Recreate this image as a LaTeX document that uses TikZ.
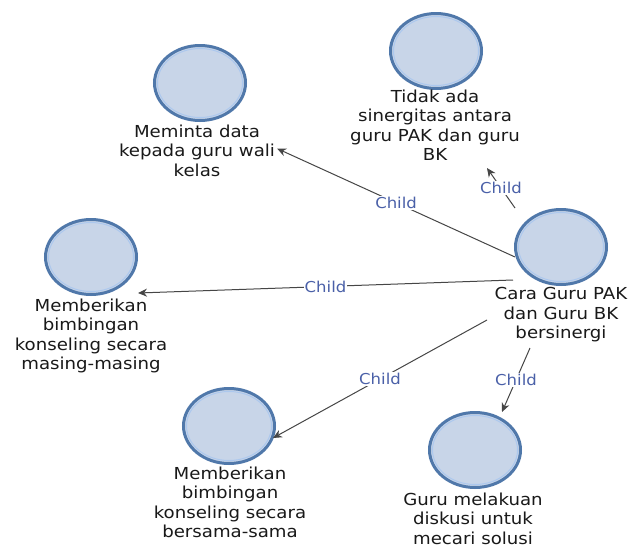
\documentclass[tikz,border=0pt]{standalone}
\usepackage{fontspec}
\setmainfont{DejaVu Sans}[FakeStretch=1.1]
\usetikzlibrary{shapes.geometric,arrows.meta}
\definecolor{ring}{RGB}{80,120,170}
\definecolor{ringin}{RGB}{172,200,238}
\definecolor{bubble}{RGB}{200,213,232}
\definecolor{lbl}{RGB}{74,96,168}
\definecolor{edge}{RGB}{70,70,70}
\definecolor{ink}{RGB}{25,25,25}
\begin{document}
\begin{tikzpicture}[x=1pt,y=-1pt,
  bub/.style={ellipse, draw=ring, line width=3pt, fill=bubble, minimum width=91pt, minimum height=75pt, inner sep=0pt},
  inring/.style={draw=ringin, line width=1pt},
  txt/.style={anchor=north, align=center, inner sep=0pt, text=ink, font=\fontsize{16.5}{19.5}\selectfont},
  conn/.style={draw=edge, line width=1pt, -{Stealth[length=9pt,width=8pt]}},
  lab/.style={fill=white, text=lbl, inner sep=1pt, font=\fontsize{15}{17}\selectfont}]
\useasboundingbox[fill=white] (0,0) rectangle (635,544);

\node[bub] (c1) at (200,83) {};
\node[bub] (c2) at (436,51) {};
\node[bub] (c3) at (561,247) {};
\node[bub] (c4) at (91,257) {};
\node[bub] (c5) at (229,426) {};
\node[bub] (c6) at (475,450) {};
\foreach \c in {c1,c2,c3,c4,c5,c6}
  \draw[inring] (\c) ellipse (42.5 and 34.5);

\node[txt] (t1) at (197,124.5) {Meminta data\\kepada guru wali\\kelas};
\node[txt] (t2) at (435,89.5) {Tidak ada\\sinergitas antara\\guru PAK dan guru\\BK};
\node[txt] (t3) at (561,287.5) {Cara Guru PAK\\dan Guru BK\\bersinergi};
\node[txt] (t4) at (91,298.5) {Memberikan\\bimbingan\\konseling secara\\masing-masing};
\node[txt] (t5) at (230,466.5) {Memberikan\\bimbingan\\konseling secara\\bersama-sama};
\node[txt] (t6) at (473,492.5) {Guru melakuan\\diskusi untuk\\mecari solusi};

\draw[conn] ([xshift=-46pt,yshift=-10pt]c3.center) -- node[lab]{Child} ([xshift=2pt,yshift=2pt]t1.east);
\draw[conn] ([xshift=-46pt,yshift=39pt]c3.center) -- node[lab]{Child} ([xshift=51pt,yshift=-117pt]c2.center);
\draw[conn] ([xshift=-48pt,yshift=-33pt]c3.center) -- node[lab]{Child} ([xshift=47pt,yshift=-36pt]c4.center);
\draw[conn] ([xshift=-74pt,yshift=-73pt]c3.center) -- node[lab]{Child} ([xshift=44pt,yshift=-12pt]c5.center);
\draw[conn] ([xshift=-31pt,yshift=-101pt]c3.center) -- node[lab]{Child} ([xshift=27pt,yshift=38pt]c6.center);
\end{tikzpicture}
\end{document}
